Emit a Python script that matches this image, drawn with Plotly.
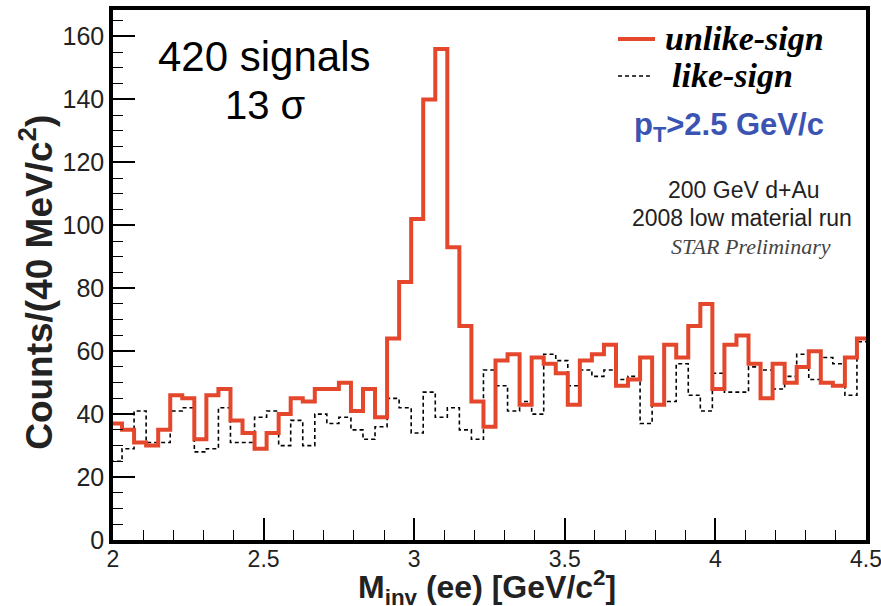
import numpy as np
import plotly.graph_objects as go

# Di-electron invariant-mass histograms, 40 MeV/c^2 bins
bin_low = 1.99
bin_width = 0.04

unlike_sign = [37, 35, 31, 30, 35, 46, 45, 32, 46, 48, 38, 34, 29, 34, 40, 45,
               44, 48, 48, 50, 41, 48, 39, 64, 82, 102, 140, 156, 93, 68, 44, 36,
               57, 59, 43, 58, 56, 53, 43, 57, 59, 62, 49, 51, 58, 43, 62, 58,
               68, 75, 48, 62, 65, 56, 45, 56, 50, 55, 60, 50, 49, 58, 64]

like_sign = [25, 29, 41, 31, 31, 41, 42, 28, 29, 42, 31, 31, 39, 41, 30, 38,
             30, 40, 37, 39, 35, 32, 36, 45, 42, 34, 47, 39, 42, 35, 32, 54,
             49, 41, 44, 40, 59, 57, 49, 54, 52, 54, 51, 52, 37, 43, 44, 56,
             46, 41, 53, 47, 47, 55, 54, 48, 52, 59, 51, 58, 56, 46, 63]

x_tick_vals = [2, 2.5, 3, 3.5, 4, 4.5]
x_tick_text = ["2", "2.5", "3", "3.5", "4", "4.5"]
y_tick_vals = [0, 20, 40, 60, 80, 100, 120, 140, 160]

n_bins = len(unlike_sign)
edges = bin_low + bin_width * np.arange(n_bins + 1)


def step_xy(values):
    xs = list(edges)
    ys = list(values) + [values[-1]]
    return xs, ys


RED = "#e4472b"
SANS = "Liberation Sans, Arial, Helvetica, sans-serif"
SERIF = "Liberation Serif, Times New Roman, serif"

fig = go.Figure()

lx, ly = step_xy(like_sign)
fig.add_trace(go.Scatter(
    x=lx, y=ly, mode="lines", line_shape="hv", name="like-sign",
    line=dict(color="black", width=1.6, dash="4px,3px"), showlegend=False,
))

ux, uy = step_xy(unlike_sign)
fig.add_trace(go.Scatter(
    x=ux, y=uy, mode="lines", line_shape="hv", name="unlike-sign",
    line=dict(color=RED, width=4), showlegend=False,
))

# Hand-placed legend samples
fig.add_shape(type="line", xref="paper", yref="paper",
              x0=0.6707, x1=0.7198, y0=0.9453, y1=0.9453,
              line=dict(color=RED, width=4))
fig.add_shape(type="line", xref="paper", yref="paper",
              x0=0.6707, x1=0.7131, y0=0.8755, y1=0.8755,
              line=dict(color="black", width=1.4, dash="4px,3px"))

annotations = [
    dict(text="<b><i>unlike-sign</i></b>", x=0.7304, y=0.947, xanchor="left",
         yanchor="middle", font=dict(family=SERIF, size=34, color="black")),
    dict(text="<b><i>like-sign</i></b>", x=0.7397, y=0.877, xanchor="left",
         yanchor="middle", font=dict(family=SERIF, size=34, color="black")),
    dict(text="<b>p<sub>T</sub>>2.5 GeV/c</b>", x=0.818, y=0.779, xanchor="center",
         yanchor="middle", font=dict(family=SANS, size=31, color="#3b54b2")),
    dict(text="200 GeV d+Au", x=0.838, y=0.660, xanchor="center",
         yanchor="middle", font=dict(family=SANS, size=23, color="#222222")),
    dict(text="2008 low material run", x=0.835, y=0.6075, xanchor="center",
         yanchor="middle", font=dict(family=SANS, size=23, color="#222222")),
    dict(text="<i>STAR Preliminary</i>", x=0.847, y=0.553, xanchor="center",
         yanchor="middle", font=dict(family=SERIF, size=22, color="#444444")),
    dict(text="420 signals", x=0.2005, y=0.913, xanchor="center",
         yanchor="middle", font=dict(family=SANS, size=42, color="black")),
    dict(text="13 σ", x=0.202, y=0.821, xanchor="center",
         yanchor="middle", font=dict(family=SANS, size=40, color="black")),
    # axis titles
    dict(text="<b>M<sub>inv</sub> (ee) [GeV/c<sup>2</sup>]</b>", x=0.4967, y=-0.089,
         xanchor="center", yanchor="middle",
         font=dict(family=SANS, size=32, color="#222222")),
    dict(text="<b>Counts/(40 MeV/c<sup>2</sup>)</b>", x=-0.101, y=0.487,
         xanchor="center", yanchor="middle", textangle=-90,
         font=dict(family=SANS, size=37, color="#222222")),
]
for a in annotations:
    a.update(xref="paper", yref="paper", showarrow=False)

fig.update_layout(
    width=881, height=606,
    margin=dict(l=113, r=15, t=10, b=66),
    paper_bgcolor="white", plot_bgcolor="white",
    annotations=annotations,
    xaxis=dict(
        range=[2, 4.5001], tickvals=x_tick_vals, ticktext=x_tick_text,
        ticks="inside", ticklen=22, tickwidth=1.5, tickcolor="black",
        minor=dict(dtick=0.1, ticks="inside", ticklen=10, tickcolor="black", tickwidth=1.2),
        showgrid=False, zeroline=False, ticklabeloverflow="allow", automargin=False,
        ticklabelstandoff=-4,
        showline=True, linewidth=3.5, linecolor="black", mirror=True,
        tickfont=dict(family=SANS, size=23, color="#222222"),
    ),
    yaxis=dict(
        range=[0, 168.4], tickvals=y_tick_vals,
        ticks="inside", ticklen=22, tickwidth=1.5, tickcolor="black",
        minor=dict(dtick=5, ticks="inside", ticklen=10, tickcolor="black", tickwidth=1.2),
        showgrid=False, zeroline=False, automargin=False,
        showline=True, linewidth=3.5, linecolor="black", mirror=True,
        tickfont=dict(family=SANS, size=25, color="#222222"),
    ),
)

fig.write_html("out.html")
